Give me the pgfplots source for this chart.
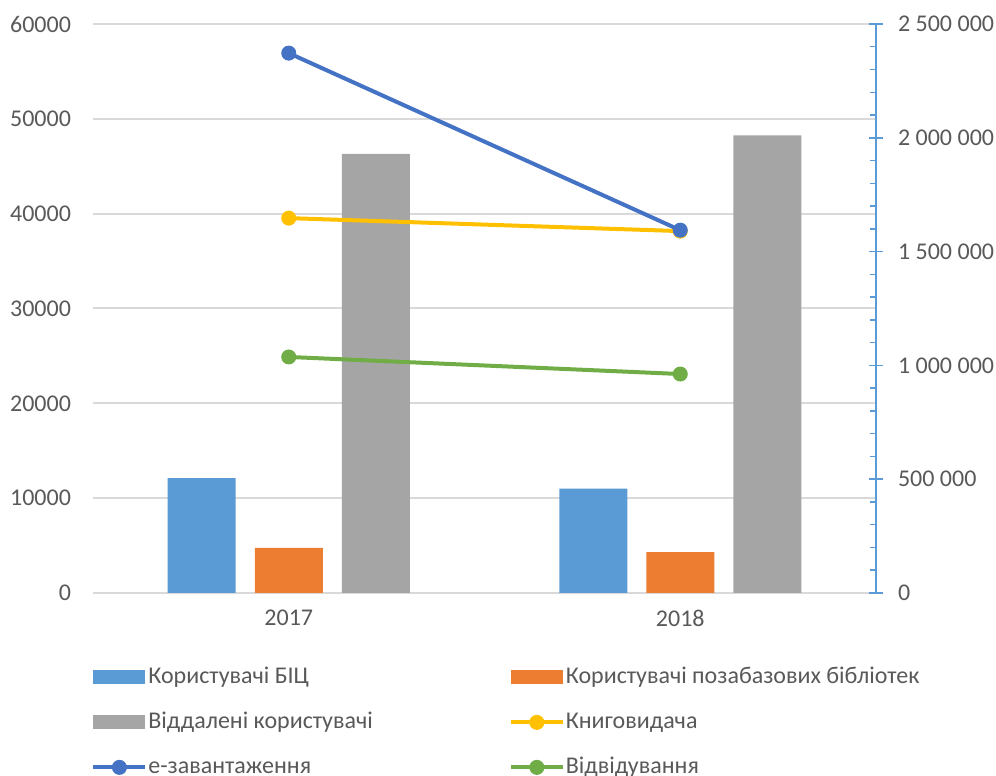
\documentclass[border=0pt]{standalone}
\usepackage{pgfplots}
\pgfplotsset{compat=1.18}
\usepackage{fontspec}
\setmainfont{Carlito}

\definecolor{barblue}{HTML}{5B9BD5}
\definecolor{barorange}{HTML}{ED7D31}
\definecolor{bargray}{HTML}{A5A5A5}
\definecolor{lnyellow}{HTML}{FFC000}
\definecolor{lnblue}{HTML}{4472C4}
\definecolor{lngreen}{HTML}{70AD47}
\definecolor{gridc}{HTML}{D9D9D9}
\definecolor{txt}{HTML}{595959}

\pgfplotsset{
  base/.style={scale only axis, width=391.5pt, height=284.5pt,
    xmin=-0.5, xmax=1.5,
    font=\fontsize{12}{14}\selectfont,
    tick label style={text=txt},
    scaled y ticks=false,
    /pgf/number format/assume math mode=true},
  barleg/.style={legend image code/.code={\path[##1] (0pt,-3.5pt) rectangle (26pt,3.5pt);}},
  lineleg/.style={legend image code/.code={\draw[mark repeat=2,mark phase=2,##1] plot coordinates {(0pt,0pt) (13pt,0pt) (26pt,0pt)};}},
  ln/.style={#1, line width=2pt, mark=*, mark size=3.5pt,
    mark options={solid, fill=#1, draw=#1, line width=0.5pt}, lineleg},
}

\begin{document}
\begin{tikzpicture}
% bars, left axis
\begin{axis}[base,
  ymin=0, ymax=60000, ytick={0,10000,...,60000},
  ymajorgrids, grid style={gridc, line width=1pt},
  axis x line*=bottom, axis y line*=left,
  x axis line style={gridc, line width=1pt, -},
  y axis line style={draw=none},
  major tick length=0pt,
  xtick={0,1}, xticklabels={2017,2018},
  ybar=9.5pt, bar width=34pt,
  yticklabel style={/pgf/number format/1000 sep={}, xshift=-7.5pt},
  xticklabel style={yshift=-5pt},
]
\addplot[fill=barblue, draw=none] coordinates {(0,12100) (1,11000)};
\addplot[fill=barorange, draw=none] coordinates {(0,4750) (1,4300)};
\addplot[fill=bargray, draw=none] coordinates {(0,46300) (1,48250)};
\coordinate (bl) at (rel axis cs:0,0);
\coordinate (tr) at (rel axis cs:1,1);
\end{axis}

% lines, right axis
\begin{axis}[base,
  ymin=0, ymax=2500000,
  axis y line*=right, axis x line=none,
  y axis line style={barblue, line width=0.75pt, -},
  ytick={0,500000,1000000,1500000,2000000,2500000},
  yticklabels={0,500 000,1 000 000,1 500 000,2 000 000,2 500 000},
  minor y tick num=4,
  tick style={barblue, line width=0.75pt},
  tick align=inside,
  major tick length=7pt, minor tick length=3pt,
  major tick style={xshift=3.5pt},
  yticklabel style={xshift=7.5pt},
  clip=false,
  legend columns=2, legend cell align=left,
  legend style={at={(0,0)}, anchor=north west, xshift=-1pt, yshift=-36pt,
    draw=none, fill=none, inner sep=0pt, text=txt,
    font=\fontsize{12}{14}\selectfont,
    row sep=10.5pt,
    /tikz/every odd column/.append style={column sep=0.5pt},
    /tikz/column 2/.style={column sep=68pt},
    nodes={inner sep=0pt, text height=9pt, text depth=3pt}},
]
\addlegendimage{barleg, fill=barblue, draw=none}
\addlegendentry{Користувачі БІЦ}
\addlegendimage{barleg, fill=barorange, draw=none}
\addlegendentry{Користувачі позабазових бібліотек}
\addlegendimage{barleg, fill=bargray, draw=none}
\addlegendentry{Віддалені користувачі}
\addplot[ln=lnyellow] coordinates {(0,1647000) (1,1590000)};
\addlegendentry{Книговидача}
\addplot[ln=lnblue] coordinates {(0,2372000) (1,1594000)};
\addlegendentry{е-завантаження}
\addplot[ln=lngreen] coordinates {(0,1037000) (1,962000)};
\addlegendentry{Відвідування}
\end{axis}

\pgfresetboundingbox
\path ([shift={(-46.5pt,-91.5pt)}]bl) rectangle ([shift={(60pt,12pt)}]tr);
\end{tikzpicture}
\end{document}
